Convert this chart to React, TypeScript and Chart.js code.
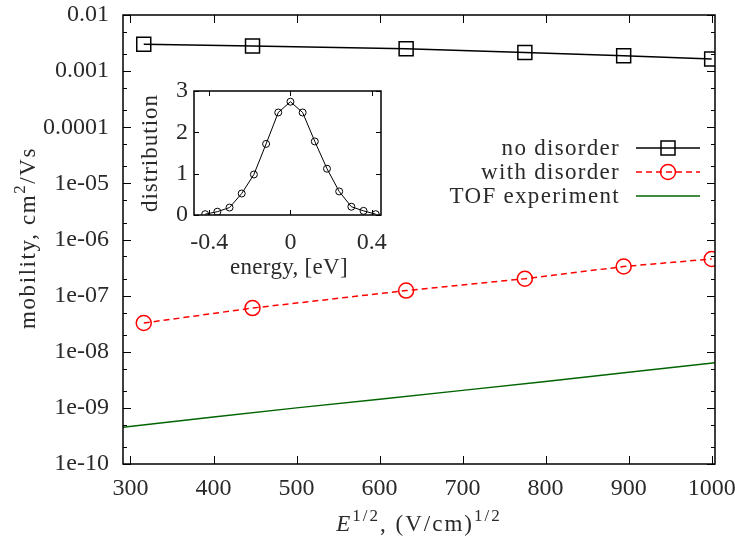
import React, { useEffect, useRef } from "react";
import { Chart, registerables } from "chart.js";

Chart.register(...registerables);

// ---------- data ----------
const fieldSqrt = [316, 447, 632, 775, 894, 1000];
const noDisorder = [3.0e-3, 2.8e-3, 2.5e-3, 2.15e-3, 1.87e-3, 1.65e-3];
const withDisorder = [3.25e-8, 6.0e-8, 1.23e-7, 2.0e-7, 3.3e-7, 4.5e-7];
const tofField = [291, 400, 500, 600, 700, 800, 900, 1004];
const tofMobility = [4.5e-10, 6.9e-10, 1.0e-9, 1.43e-9, 2.05e-9, 2.95e-9, 4.3e-9, 6.4e-9];

const xTicks = [300, 400, 500, 600, 700, 800, 900, 1000];
const yTicks = [1e-10, 1e-9, 1e-8, 1e-7, 1e-6, 1e-5, 1e-4, 1e-3, 1e-2];
const yTickLabels = ["1e-10", "1e-09", "1e-08", "1e-07", "1e-06", "1e-05", "0.0001", "0.001", "0.01"];
const yMinorFactors = [2, 5];

const energy = [-0.42, -0.36, -0.3, -0.24, -0.18, -0.12, -0.06, 0, 0.06, 0.12, 0.18, 0.24, 0.3, 0.36, 0.42];
const distribution = [0.02, 0.08, 0.18, 0.52, 0.98, 1.72, 2.48, 2.74, 2.48, 1.78, 1.12, 0.57, 0.2, 0.1, 0.02];
const insetXTicks = [-0.4, 0, 0.4];
const insetXTickLabels = ["-0.4", "0", "0.4"];
const insetYTicks = [0, 1, 2, 3];

const legendLabels = ["no disorder", "with disorder", "TOF experiment"];

// ---------- styles ----------
const FONT = '"Liberation Serif", "DejaVu Serif", serif';
const TEXT = "#2a2a2a";
const FS = 23;
const TICK_FS = 24;
const BLACK = "#000000";
const RED = "#ff0000";
const GREEN = "#006400";

type Seg = { t: string; it?: boolean; sup?: boolean };
function segFont(s: Seg, size: number) {
  const sz = s.sup ? Math.round(size * 0.72) : size;
  return `${s.it ? "italic " : ""}${sz}px ${FONT}`;
}
function drawSegs(
  ctx: CanvasRenderingContext2D,
  segs: Seg[],
  cx: number,
  cy: number,
  size: number,
  rotate: boolean,
  spacing: number
) {
  ctx.save();
  ctx.translate(cx, cy);
  if (rotate) ctx.rotate(-Math.PI / 2);
  (ctx as any).letterSpacing = `${spacing}px`;
  let w = 0;
  for (const s of segs) {
    ctx.font = segFont(s, size);
    w += ctx.measureText(s.t).width;
  }
  let x = -w / 2;
  ctx.textBaseline = "alphabetic";
  ctx.textAlign = "left";
  ctx.fillStyle = TEXT;
  for (const s of segs) {
    ctx.font = segFont(s, size);
    ctx.fillText(s.t, x, s.sup ? -size * 0.42 : 0);
    x += ctx.measureText(s.t).width;
  }
  ctx.restore();
}

function makeFramePlugin(cfg: {
  xTicks: number[];
  yTicks: number[];
  yMinor: number[];
  major: number;
  minor: number;
  lineWidth: number;
  titles?: (ctx: CanvasRenderingContext2D) => void;
  extra?: (chart: any) => void;
}) {
  return {
    id: "frame" + Math.random().toString(36).slice(2),
    afterDraw(chart: any) {
      const { ctx, chartArea: a, scales } = chart;
      const xs = scales.x;
      const ys = scales.y;
      ctx.save();
      ctx.strokeStyle = BLACK;
      ctx.lineWidth = 1;
      ctx.beginPath();
      for (const v of cfg.xTicks) {
        const px = Math.round(xs.getPixelForValue(v)) + 0.5;
        ctx.moveTo(px, a.bottom);
        ctx.lineTo(px, a.bottom - cfg.major);
        ctx.moveTo(px, a.top);
        ctx.lineTo(px, a.top + cfg.major);
      }
      for (const v of cfg.yTicks) {
        const py = Math.round(ys.getPixelForValue(v)) + 0.5;
        ctx.moveTo(a.left, py);
        ctx.lineTo(a.left + cfg.major, py);
        ctx.moveTo(a.right, py);
        ctx.lineTo(a.right - cfg.major, py);
      }
      for (const v of cfg.yMinor) {
        const py = Math.round(ys.getPixelForValue(v)) + 0.5;
        ctx.moveTo(a.left, py);
        ctx.lineTo(a.left + cfg.minor, py);
        ctx.moveTo(a.right, py);
        ctx.lineTo(a.right - cfg.minor, py);
      }
      ctx.stroke();
      ctx.lineWidth = cfg.lineWidth;
      ctx.strokeRect(a.left, a.top, a.right - a.left, a.bottom - a.top);
      ctx.restore();
      if (cfg.titles) cfg.titles(ctx);
      if (cfg.extra) cfg.extra(chart);
    },
  };
}

function labelFor(value: number) {
  for (let i = 0; i < yTicks.length; i++) {
    if (Math.abs(Math.log10(value) - Math.log10(yTicks[i])) < 1e-6) return yTickLabels[i];
  }
  return "";
}

export default function App() {
  const mainRef = useRef<HTMLCanvasElement>(null);
  const insetRef = useRef<HTMLCanvasElement>(null);

  useEffect(() => {
    document.body.style.margin = "0";
    const yMinor: number[] = [];
    for (let i = 0; i < yTicks.length - 1; i++) for (const f of yMinorFactors) yMinor.push(yTicks[i] * f);

    const legendStyles = [
      { color: BLACK, dash: [] as number[], marker: "rect" },
      { color: RED, dash: [6, 4], marker: "circle" },
      { color: GREEN, dash: [] as number[], marker: "" },
    ];

    const drawLegend = (chart: any) => {
      const ctx: CanvasRenderingContext2D = chart.ctx;
      const rows = [148, 172, 196];
      ctx.save();
      legendLabels.forEach((lab, i) => {
        const y = rows[i];
        ctx.font = `${FS}px ${FONT}`;
        (ctx as any).letterSpacing = "1.3px";
        ctx.fillStyle = TEXT;
        ctx.textAlign = "right";
        ctx.textBaseline = "middle";
        ctx.fillText(lab, 620, y + 1);
        (ctx as any).letterSpacing = "0px";
        const st = legendStyles[i];
        ctx.strokeStyle = st.color;
        ctx.lineWidth = 1.5;
        ctx.setLineDash(st.dash);
        ctx.beginPath();
        ctx.moveTo(636, y);
        ctx.lineTo(700, y);
        ctx.stroke();
        ctx.setLineDash([]);
        if (st.marker === "rect") {
          ctx.strokeRect(668 - 7, y - 7, 14, 14);
        } else if (st.marker === "circle") {
          ctx.beginPath();
          ctx.arc(668, y, 7.5, 0, Math.PI * 2);
          ctx.stroke();
        }
      });
      ctx.restore();
    };

    const mainFrame = makeFramePlugin({
      xTicks,
      yTicks,
      yMinor,
      major: 8,
      minor: 4,
      lineWidth: 1.5,
      titles: (ctx) => {
        drawSegs(ctx, [{ t: "mobility, cm" }, { t: "2", sup: true }, { t: "/Vs" }], 35, 238, FS, true, 1.6);
        drawSegs(
          ctx,
          [{ t: "E", it: true }, { t: "1/2", sup: true }, { t: ", (V/cm)" }, { t: "1/2", sup: true }],
          419,
          531,
          FS,
          false,
          2
        );
      },
      extra: drawLegend,
    });

    const main = new Chart(mainRef.current!, {
      type: "line",
      data: {
        datasets: [
          {
            label: legendLabels[0],
            data: fieldSqrt.map((x, i) => ({ x, y: noDisorder[i] })),
            borderColor: BLACK,
            borderWidth: 1.5,
            pointStyle: "rect",
            pointRadius: 9.9,
            pointBorderWidth: 1.5,
            pointBorderColor: BLACK,
            pointBackgroundColor: "rgba(0,0,0,0)",
            tension: 0,
          },
          {
            label: legendLabels[1],
            data: fieldSqrt.map((x, i) => ({ x, y: withDisorder[i] })),
            borderColor: RED,
            borderWidth: 1.5,
            borderDash: [6, 4],
            pointStyle: "circle",
            pointRadius: 7.5,
            pointBorderWidth: 1.5,
            pointBorderColor: RED,
            pointBackgroundColor: "rgba(0,0,0,0)",
            tension: 0,
          },
          {
            label: legendLabels[2],
            data: tofField.map((x, i) => ({ x, y: tofMobility[i] })),
            borderColor: GREEN,
            borderWidth: 1.5,
            pointRadius: 0,
            tension: 0,
          },
        ],
      },
      options: {
        animation: false,
        responsive: false,
        events: [],
        layout: { padding: { top: 15, right: 20, left: 0, bottom: 0 } },
        plugins: { legend: { display: false }, tooltip: { enabled: false } },
        scales: {
          x: {
            type: "linear",
            min: 291,
            max: 1004,
            grid: { display: false, drawTicks: false, tickLength: 0 },
            border: { display: false },
            afterBuildTicks: (s: any) => {
              s.ticks = xTicks.map((v) => ({ value: v }));
            },
            afterFit: (s: any) => {
              s.height = 73;
              s.paddingLeft = 0;
              s.paddingRight = 0;
            },
            ticks: {
              autoSkip: false,
              maxRotation: 0,
              padding: 10,
              color: TEXT,
              font: { family: FONT, size: TICK_FS },
              callback: (v: any) => String(v),
            },
          },
          y: {
            type: "logarithmic",
            min: 1e-10,
            max: 1e-2,
            grid: { display: false, drawTicks: false, tickLength: 0 },
            border: { display: false },
            afterBuildTicks: (s: any) => {
              s.ticks = yTicks.map((v) => ({ value: v }));
            },
            afterFit: (s: any) => {
              s.width = 123;
              s.paddingTop = 0;
              s.paddingBottom = 0;
            },
            ticks: {
              autoSkip: false,
              padding: 14,
              color: TEXT,
              font: { family: FONT, size: TICK_FS },
              callback: (v: any) => labelFor(Number(v)),
            },
          },
        },
      },
      plugins: [mainFrame],
    } as any);

    const insetFrame = makeFramePlugin({
      xTicks: insetXTicks,
      yTicks: insetYTicks,
      yMinor: [],
      major: 5,
      minor: 0,
      lineWidth: 1.5,
      titles: (ctx) => {
        drawSegs(ctx, [{ t: "distribution" }], 27, 78, FS, true, 1);
        drawSegs(ctx, [{ t: "energy, [eV]" }], 159, 199, FS, false, 0.3);
      },
    });

    const inset = new Chart(insetRef.current!, {
      type: "line",
      data: {
        datasets: [
          {
            data: energy.map((x, i) => ({ x, y: distribution[i] })),
            borderColor: BLACK,
            borderWidth: 1,
            pointStyle: "circle",
            pointRadius: 3.5,
            pointBorderWidth: 1,
            pointBorderColor: BLACK,
            pointBackgroundColor: "rgba(0,0,0,0)",
            tension: 0,
          },
        ],
      },
      options: {
        animation: false,
        responsive: false,
        events: [],
        layout: { padding: { top: 16, right: 19, left: 0, bottom: 0 } },
        plugins: { legend: { display: false }, tooltip: { enabled: false } },
        scales: {
          x: {
            type: "linear",
            min: -0.475,
            max: 0.446,
            grid: { display: false, drawTicks: false, tickLength: 0 },
            border: { display: false },
            afterBuildTicks: (s: any) => {
              s.ticks = insetXTicks.map((v) => ({ value: v }));
            },
            afterFit: (s: any) => {
              s.height = 70;
              s.paddingLeft = 0;
              s.paddingRight = 0;
            },
            ticks: {
              autoSkip: false,
              maxRotation: 0,
              padding: 13,
              color: TEXT,
              font: { family: FONT, size: TICK_FS },
              callback: (v: any) => {
                const i = insetXTicks.findIndex((t) => Math.abs(t - Number(v)) < 1e-9);
                return i >= 0 ? insetXTickLabels[i] : "";
              },
            },
          },
          y: {
            type: "linear",
            min: 0,
            max: 3,
            grid: { display: false, drawTicks: false, tickLength: 0 },
            border: { display: false },
            afterBuildTicks: (s: any) => {
              s.ticks = insetYTicks.map((v) => ({ value: v }));
            },
            afterFit: (s: any) => {
              s.width = 64;
              s.paddingTop = 0;
              s.paddingBottom = 0;
            },
            ticks: {
              autoSkip: false,
              padding: 6,
              color: TEXT,
              font: { family: FONT, size: TICK_FS },
              callback: (v: any) => String(v),
            },
          },
        },
      },
      plugins: [insetFrame],
    } as any);

    return () => {
      main.destroy();
      inset.destroy();
    };
  }, []);

  return (
    <div style={{ position: "relative", width: 735, height: 537, background: "#fff" }}>
      <canvas ref={mainRef} width={735} height={537} style={{ position: "absolute", left: 0, top: 0 }} />
      <canvas ref={insetRef} width={270} height={210} style={{ position: "absolute", left: 130, top: 75 }} />
    </div>
  );
}
